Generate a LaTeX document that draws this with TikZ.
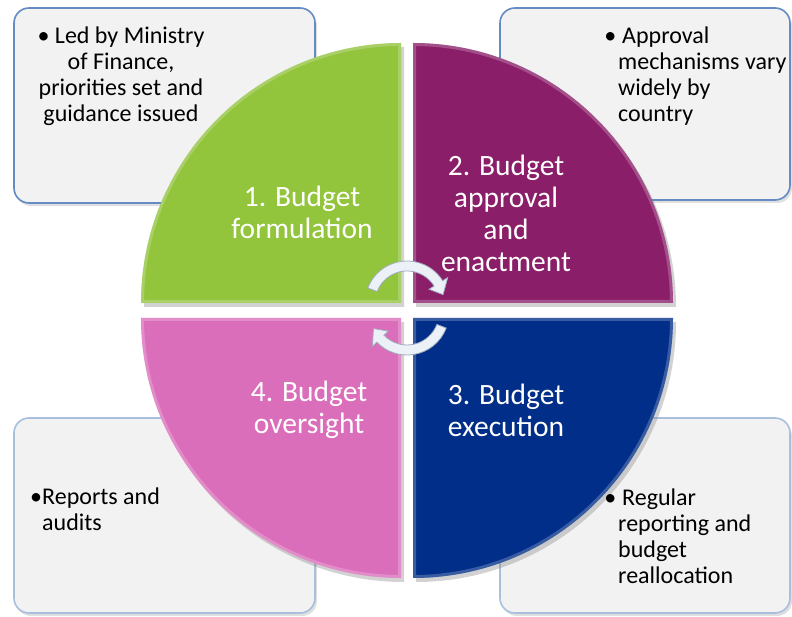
\documentclass[tikz,border=0pt]{standalone}
\usepackage{fontspec}
\setmainfont{Carlito}
\usetikzlibrary{shadows,calc}
\definecolor{qgreen}{RGB}{146,196,60}
\definecolor{qmag}{RGB}{138,30,104}
\definecolor{qblue}{RGB}{0,46,136}
\definecolor{qpink}{RGB}{219,110,186}
\definecolor{boxfill}{RGB}{242,242,242}
\definecolor{boxedge}{RGB}{98,140,195}
\definecolor{boxedgel}{RGB}{168,192,222}
\definecolor{arrfill}{RGB}{236,241,248}
\definecolor{arredge}{RGB}{160,172,190}
\begin{document}
\begin{tikzpicture}[x=1pt,y=1pt,
  infobox/.style={fill=boxfill, line width=1.6pt, rounded corners=15pt,
    drop shadow={opacity=0.25,shadow xshift=2pt,shadow yshift=-3pt}},
  quad/.style={drop shadow={opacity=0.35,shadow xshift=3pt,shadow yshift=-4pt}},
  bevel/.style={draw=white, line width=6pt, opacity=0.22},
  qlabel/.style={text=white, font=\fontsize{29.5}{32}\selectfont, align=center},
  btext/.style={text=black, inner sep=0pt, font=\fontsize{24}{26}\selectfont},
  cyc/.style={fill=arrfill, draw=arredge, line width=0.8pt}]
\path[use as bounding box] (0,0) rectangle (792,616);
\fill[white] (0,0) rectangle (792,616);
% info boxes
\path[infobox, draw=boxedge] (14,413) rectangle (315,608);
\path[infobox, draw=boxedge] (500,416) rectangle (790,608);
\path[infobox, draw=boxedgel] (14,3) rectangle (315,198);
\path[infobox, draw=boxedgel] (500,3) rectangle (790,198);
% quadrants
\def\qA{(401,313) -- (141,313) arc[start angle=180,end angle=90,radius=260] -- cycle}
\def\qB{(413,313) -- (413,573) arc[start angle=90,end angle=0,radius=260] -- cycle}
\def\qC{(413,298) -- (673,298) arc[start angle=0,end angle=-90,radius=260] -- cycle}
\def\qD{(401,298) -- (401,38) arc[start angle=-90,end angle=-180,radius=260] -- cycle}
\path[quad, fill=qgreen] \qA;
\path[quad, fill=qmag] \qB;
\path[quad, fill=qblue] \qC;
\path[quad, fill=qpink] \qD;
\begin{scope}\clip \qA; \path[bevel] \qA; \end{scope}
\begin{scope}\clip \qB; \path[bevel] \qB; \end{scope}
\begin{scope}\clip \qC; \path[bevel] \qC; \end{scope}
\begin{scope}\clip \qD; \path[bevel] \qD; \end{scope}
% quadrant labels
\node[qlabel] (q1) at (302,404) {1. Budget\\formulation};
\node[qlabel] (q2) at (506,403) {2. Budget\\approval\\and\\enactment};
\node[qlabel] (q4) at (309,206) {4. Budget\\oversight};
\node[qlabel] (q3) at (506,206) {3. Budget\\execution};
% box texts
\node[btext, align=center] (t1) at (121,540) {\textbullet\ Led by Ministry\\of Finance,\\priorities set and\\guidance issued};
\node[btext, align=left, anchor=west] (t2) at (618,540) {\llap{\textbullet\hspace{2pt}}\hspace{4pt}Approval\\mechanisms vary\\widely by\\country};
\node[btext, align=left, anchor=west] (t4) at (42,107) {\llap{\textbullet}Reports and\\audits};
\node[btext, align=left, anchor=west] (t3) at (618,80) {\llap{\textbullet\hspace{2pt}}\hspace{4pt}Regular\\reporting and\\budget\\reallocation};
% cycle arrows
\begin{scope}[shift={(407,313)}]
\path[cyc] (159:42) arc[start angle=159,end angle=32,radius=42] -- (32:48) -- (13:37) -- (32:26) -- (32:32) arc[start angle=32,end angle=159,radius=32] -- cycle;
\end{scope}
\begin{scope}[shift={(407,303)}]
\path[cyc] (-21:42) arc[start angle=-21,end angle=-136,radius=42] -- (-136:48) -- (-155:37) -- (-136:26) -- (-136:32) arc[start angle=-136,end angle=-21,radius=32] -- cycle;
\end{scope}
\end{tikzpicture}
\end{document}
